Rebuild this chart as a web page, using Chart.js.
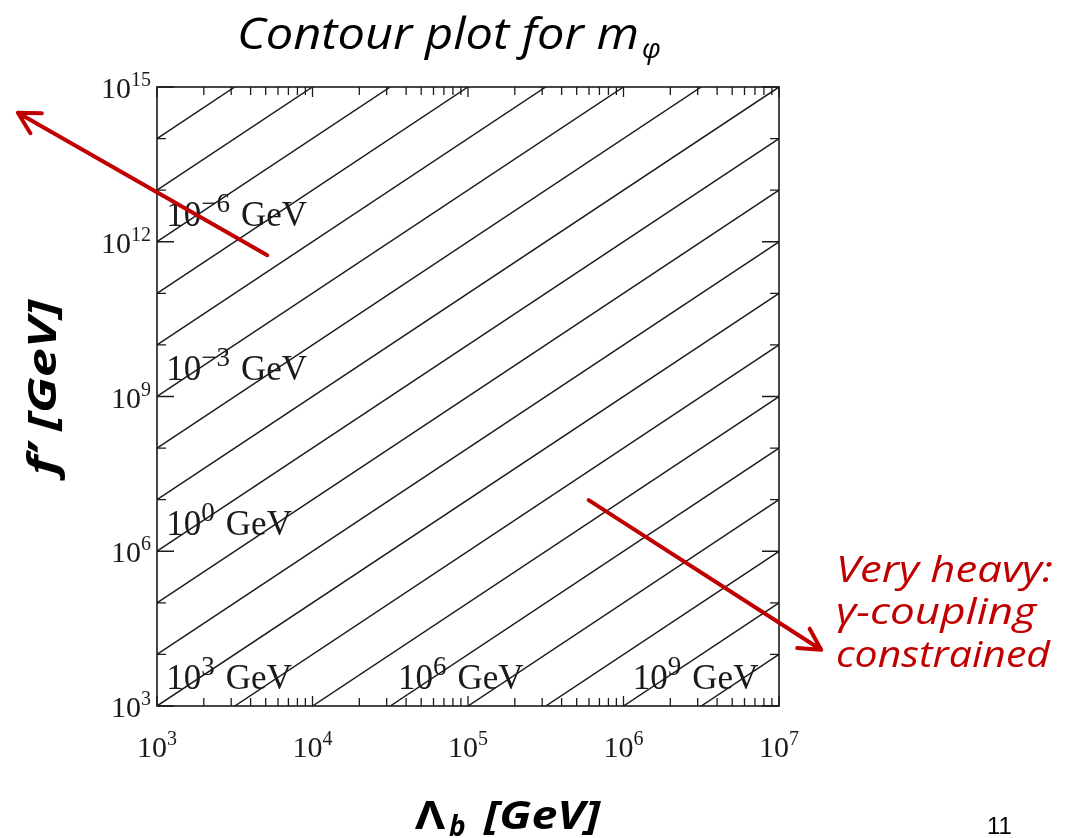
<!DOCTYPE html>
<html>
<head>
<meta charset="utf-8">
<title>Contour plot for m_phi</title>
<script src="https://cdn.jsdelivr.net/npm/chart.js@4.4.1/dist/chart.umd.min.js"></script>
<style>
  html, body { margin: 0; padding: 0; background: #ffffff; }
  #wrap { width: 1073px; height: 838px; }
</style>
</head>
<body>
<div id="wrap"><canvas id="contour" width="1073" height="838"></canvas></div>
<script>
// contour levels m_phi = 10^k GeV, one line per decade
const massExponents = [-8, -7, -6, -5, -4, -3, -2, -1, 0, 1, 2, 3, 4, 5, 6, 7, 8, 9, 10];
// where each contour enters and leaves the frame (log10 of Lambda_b and f', in GeV)
const startLogLambda = [3, 3, 3, 3, 3, 3, 3, 3, 3, 3, 3, 3, 3.5, 4, 4.5, 5, 5.5, 6, 6.5];
const startLogF      = [14, 13, 12, 11, 10, 9, 8, 7, 6, 5, 4, 3, 3, 3, 3, 3, 3, 3, 3];
const endLogLambda   = [3.5, 4, 4.5, 5, 5.5, 6, 6.5, 7, 7, 7, 7, 7, 7, 7, 7, 7, 7, 7, 7];
const endLogF        = [15, 15, 15, 15, 15, 15, 15, 15, 14, 13, 12, 11, 10, 9, 8, 7, 6, 5, 4];

// contours that carry a text label, and where the label sits
const labelExponents = [-6, -3, 0, 3, 6, 9];
const labelLogLambda = [3.06, 3.06, 3.06, 3.06, 4.55, 6.06];
const labelLogF      = [12.3, 9.32, 6.32, 3.32, 3.32, 3.32];

// axes
const xDecades = [3, 4, 5, 6, 7];
const xMinorSteps = [2, 3, 4, 5, 6, 7, 8, 9];
const yDecades = [3, 4, 5, 6, 7, 8, 9, 10, 11, 12, 13, 14, 15];
const yLabelDecades = [3, 6, 9, 12, 15];

const RED = '#c00000';
const INK = '#1a1a1a';
const SERIF = '"Liberation Serif", "DejaVu Serif", serif';
const HAND = '"Open Sans", "Noto Sans", sans-serif';

const datasets = massExponents.map((k, i) => ({
  label: 'm = 1e' + k,
  data: [
    { x: 10 ** startLogLambda[i], y: 10 ** startLogF[i] },
    { x: 10 ** endLogLambda[i], y: 10 ** endLogF[i] }
  ],
  borderColor: INK,
  borderWidth: 1.5,
  pointRadius: 0,
  fill: false,
  tension: 0
}));

// draws 10 with a raised exponent, returns the x where the text ends
function drawPower(ctx, exp, x, y, size, align, supRatio) {
  const sup = String(exp).replace('-', '\u2212');
  const supSize = Math.round(size * supRatio);
  ctx.font = size + 'px ' + SERIF;
  const wb = ctx.measureText('10').width;
  ctx.font = supSize + 'px ' + SERIF;
  const ws = ctx.measureText(sup).width;
  let x0 = x;
  if (align === 'center') x0 = x - (wb + ws) / 2;
  if (align === 'right') x0 = x - wb - ws;
  ctx.textAlign = 'left';
  ctx.textBaseline = 'alphabetic';
  ctx.font = size + 'px ' + SERIF;
  ctx.fillText('10', x0, y);
  ctx.font = supSize + 'px ' + SERIF;
  ctx.fillText(sup, x0 + wb, y - size * 0.4);
  return x0 + wb + ws;
}

// text squeezed or stretched horizontally to a given width
function fillFit(ctx, text, x, y, width) {
  const w = ctx.measureText(text).width;
  ctx.save();
  ctx.translate(x, y);
  ctx.scale(width / w, 1);
  ctx.textAlign = 'left';
  ctx.fillText(text, 0, 0);
  ctx.restore();
}

function arrow(ctx, x1, y1, x2, y2) {
  const a = Math.atan2(y2 - y1, x2 - x1);
  const head = 24, spread = 0.5;
  ctx.beginPath();
  ctx.moveTo(x1, y1);
  ctx.lineTo(x2, y2);
  ctx.moveTo(x2 - head * Math.cos(a - spread), y2 - head * Math.sin(a - spread));
  ctx.lineTo(x2, y2);
  ctx.lineTo(x2 - head * Math.cos(a + spread), y2 - head * Math.sin(a + spread));
  ctx.stroke();
}

// red arrows, given in axis units (log10 Lambda_b, log10 f')
const arrows = [
  { from: [3.709, 11.74], to: [2.105, 14.50] },
  { from: [5.776, 6.99], to: [7.271, 4.09] }
];

const decorations = {
  id: 'decorations',
  afterDatasetsDraw(chart) {
    const ctx = chart.ctx;
    const xs = chart.scales.x, ys = chart.scales.y;
    const { left, right, top, bottom } = chart.chartArea;
    const px = v => xs.getPixelForValue(10 ** v);
    const py = v => ys.getPixelForValue(10 ** v);
    ctx.save();

    // frame
    ctx.strokeStyle = INK;
    ctx.lineWidth = 1.6;
    ctx.strokeRect(left, top, right - left, bottom - top);

    // inward ticks on all four sides
    ctx.lineWidth = 1.3;
    ctx.beginPath();
    xDecades.forEach(d => {
      const x = px(d);
      ctx.moveTo(x, bottom); ctx.lineTo(x, bottom - 10);
      ctx.moveTo(x, top); ctx.lineTo(x, top + 10);
      if (d < 7) {
        xMinorSteps.forEach(m => {
          const xm = xs.getPixelForValue(m * 10 ** d);
          ctx.moveTo(xm, bottom); ctx.lineTo(xm, bottom - 8);
          ctx.moveTo(xm, top); ctx.lineTo(xm, top + 8);
        });
      }
    });
    yDecades.forEach(d => {
      const y = py(d);
      const len = yLabelDecades.includes(d) ? 17 : 9;
      ctx.moveTo(left, y); ctx.lineTo(left + len, y);
      ctx.moveTo(right, y); ctx.lineTo(right - len, y);
    });
    ctx.stroke();

    // tick labels
    ctx.fillStyle = INK;
    xDecades.forEach(d => drawPower(ctx, d, px(d), 757, 30, 'center', 0.68));
    yLabelDecades.forEach(d => drawPower(ctx, d, left - 6, py(d) + 11, 30, 'right', 0.68));

    // contour labels
    labelExponents.forEach((k, i) => {
      const end = drawPower(ctx, k, px(labelLogLambda[i]), py(labelLogF[i]), 35, 'left', 0.76);
      ctx.font = '35px ' + SERIF;
      ctx.fillText('GeV', end + 11, py(labelLogF[i]));
    });

    // title
    ctx.fillStyle = '#000';
    ctx.font = 'italic 43px ' + HAND;
    fillFit(ctx, 'Contour plot for m', 237, 49, 402);
    ctx.font = 'italic 28px ' + HAND;
    ctx.fillText('\u03c6', 642, 58);

    // axis titles
    ctx.font = 'italic bold 40px ' + HAND;
    ctx.save();
    ctx.translate(56, 475);
    ctx.rotate(-Math.PI / 2);
    ctx.textBaseline = 'alphabetic';
    fillFit(ctx, 'f\u2019 [GeV]', 0, 0, 175);
    ctx.restore();

    ctx.textBaseline = 'alphabetic';
    ctx.font = 'bold 40px ' + HAND;
    fillFit(ctx, '\u039b', 415, 829, 30);
    ctx.font = 'italic bold 28px ' + HAND;
    ctx.fillText('b', 449, 836);
    ctx.font = 'italic bold 40px ' + HAND;
    fillFit(ctx, '[GeV]', 484, 829, 116);

    // page number
    ctx.font = '24px "Liberation Sans", sans-serif';
    ctx.textAlign = 'left';
    ctx.fillText('11', 987, 834);

    // red annotations
    ctx.strokeStyle = RED;
    ctx.fillStyle = RED;
    ctx.lineWidth = 4;
    ctx.lineCap = 'round';
    ctx.lineJoin = 'round';
    arrows.forEach(a => arrow(ctx, px(a.from[0]), py(a.from[1]), px(a.to[0]), py(a.to[1])));
    ctx.font = 'italic 36px ' + HAND;
    fillFit(ctx, 'Very heavy:', 836, 582, 217);
    fillFit(ctx, '\u03b3-coupling', 836, 624, 200);
    fillFit(ctx, 'constrained', 836, 667, 214);

    ctx.restore();
  }
};

new Chart(document.getElementById('contour'), {
  type: 'line',
  data: { datasets },
  options: {
    responsive: false,
    animation: false,
    events: [],
    layout: { padding: { left: 157, top: 87, right: 294, bottom: 132 } },
    plugins: { legend: { display: false }, tooltip: { enabled: false } },
    scales: {
      x: { type: 'logarithmic', min: 1e3, max: 1e7, display: false },
      y: { type: 'logarithmic', min: 1e3, max: 1e15, display: false }
    }
  },
  plugins: [decorations]
});
</script>
</body>
</html>
